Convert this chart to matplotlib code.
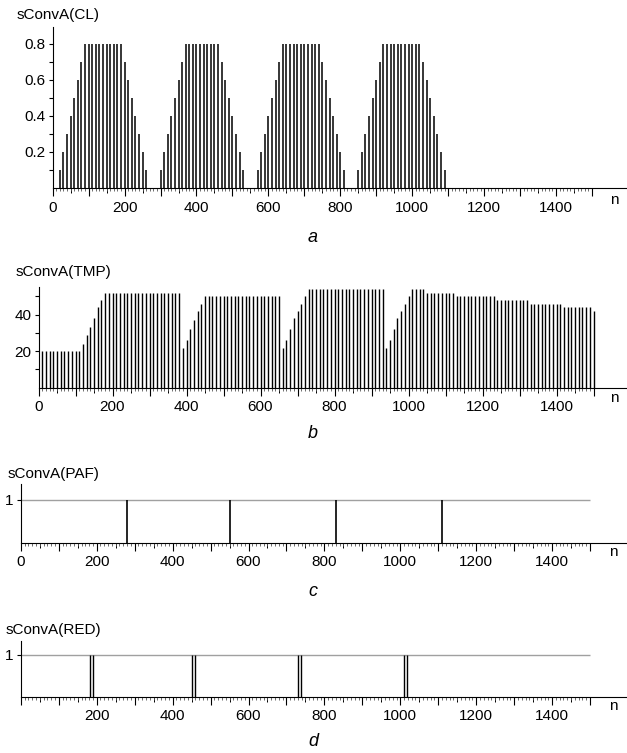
import matplotlib
matplotlib.use("Agg")
import matplotlib.pyplot as plt
import numpy as np

plt.rcParams['font.family'] = ['Liberation Sans', 'DejaVu Sans']
plt.rcParams['font.size'] = 11

W, H = 627, 753

# sConvA(CL): stems every 10 samples, n = 10 .. 1090 (zero afterwards)
cl_n = list(range(10, 1100, 10))
cl_val = [0,
          0.1, 0.2, 0.3, 0.4, 0.5, 0.6, 0.7, 0.8, 0.8, 0.8, 0.8, 0.8, 0.8, 0.8, 0.8, 0.8, 0.8, 0.8,
          0.7, 0.6, 0.5, 0.4, 0.3, 0.2, 0.1, 0, 0, 0,
          0.1, 0.2, 0.3, 0.4, 0.5, 0.6, 0.7, 0.8, 0.8, 0.8, 0.8, 0.8, 0.8, 0.8, 0.8, 0.8, 0.8,
          0.7, 0.6, 0.5, 0.4, 0.3, 0.2, 0.1, 0, 0, 0,
          0.1, 0.2, 0.3, 0.4, 0.5, 0.6, 0.7, 0.8, 0.8, 0.8, 0.8, 0.8, 0.8, 0.8, 0.8, 0.8, 0.8, 0.8,
          0.7, 0.6, 0.5, 0.4, 0.3, 0.2, 0.1, 0, 0, 0,
          0.1, 0.2, 0.3, 0.4, 0.5, 0.6, 0.7, 0.8, 0.8, 0.8, 0.8, 0.8, 0.8, 0.8, 0.8, 0.8, 0.8, 0.8,
          0.7, 0.6, 0.5, 0.4, 0.3, 0.2, 0.1]

# sConvA(TMP): stems every 10 samples, n = 10 .. 1500
tmp_n = list(range(10, 1510, 10))
tmp_val = [20, 20, 20, 20, 20, 20, 20, 20, 20, 20, 20,
           24, 29, 33, 38, 44, 48,
           52, 52, 52, 52, 52, 52, 52, 52, 52, 52, 52, 52, 52, 52, 52, 52, 52, 52, 52, 52, 52,
           22, 26, 32, 37, 42, 46,
           50, 50, 50, 50, 50, 50, 50, 50, 50, 50, 50, 50, 50, 50, 50, 50, 50, 50, 50, 50, 50,
           22, 26, 32, 38, 42, 46, 50,
           54, 54, 54, 54, 54, 54, 54, 54, 54, 54, 54, 54, 54, 54, 54, 54, 54, 54, 54, 54, 54,
           22, 26, 32, 38, 42, 46, 50,
           54, 54, 54, 54,
           52, 52, 52, 52, 52, 52, 52, 52,
           50, 50, 50, 50, 50, 50, 50, 50, 50, 50, 50,
           48, 48, 48, 48, 48, 48, 48, 48, 48,
           46, 46, 46, 46, 46, 46, 46, 46, 46,
           44, 44, 44, 44, 44, 44, 44, 44,
           42]

# sConvA(PAF) and sConvA(RED): unit pulses
paf_n = [280, 550, 830, 1110]
red_n = [182, 190, 452, 460, 730, 738, 1010, 1018]

x_major = list(range(0, 1501, 100))
x_mid = list(range(50, 1500, 100))
x_labels = ['0', '', '200', '', '400', '', '600', '', '800', '', '1000', '', '1200', '', '1400', '']


def px_axes(fig, x0, y_top, y_base):
    # axes from pixel box: left at n = 0, right edge of figure
    return fig.add_axes([x0 / W, 1 - y_base / H, (W - x0) / W, (y_base - y_top) / H])


def style_axis(ax, x0, scale, ytop, xlabels):
    ax.set_xlim(0, (W - x0) / scale)
    ax.set_ylim(0, ytop)
    ax.spines['top'].set_visible(False)
    ax.spines['right'].set_visible(False)
    ax.spines['left'].set_bounds(0, ytop)
    ax.set_xticks(x_major)
    ax.set_xticklabels(xlabels)
    ax.set_xticks(list(range(0, 1501, 10)), minor=True)
    ax.tick_params(axis='x', which='major', length=6, width=0.8, pad=3, labelsize=11)
    ax.tick_params(axis='x', which='minor', length=2, width=0.6, color='#555555')
    ax.tick_params(axis='y', which='both', length=3, width=0.8, labelsize=11, pad=2)
    # medium ticks at the 50s
    sec = ax.secondary_xaxis('bottom')
    sec.set_xticks(x_mid)
    sec.set_xticklabels([])
    sec.tick_params(length=3.5, width=0.7)
    sec.spines['bottom'].set_visible(False)
    ax.patch.set_alpha(0)
    ax.text(0.985, -0.03, 'n', transform=ax.transAxes, ha='right', va='top', fontsize=11)


fig = plt.figure(figsize=(W / 100, H / 100), dpi=100)

# Panel a
ax = px_axes(fig, 52.7, 27, 188)
ax.vlines(cl_n, 0, cl_val, color='black', linewidth=1.1)
style_axis(ax, 52.7, 0.3595, 0.894, x_labels)
ax.set_yticks([0.2, 0.4, 0.6, 0.8])
ax.set_yticklabels(['0.2', '0.4', '0.6', '0.8'])
ax.set_yticks([0.1, 0.3, 0.5, 0.7], minor=True)
fig.text(17 / W, 1 - 15 / H, 'sConvA(CL)', ha='left', va='center', fontsize=11)
fig.text(313 / W, 1 - 237 / H, 'a', ha='center', va='center', fontsize=13, style='italic')

# Panel b
ax = px_axes(fig, 38.5, 286.7, 387.7)
ax.vlines(tmp_n, 0, tmp_val, color='black', linewidth=1.0)
style_axis(ax, 38.5, 0.37, 55.3, x_labels)
ax.set_yticks([20, 40])
ax.set_yticks([10, 30, 50], minor=True)
fig.text(16 / W, 1 - 272 / H, 'sConvA(TMP)', ha='left', va='center', fontsize=11)
fig.text(313 / W, 1 - 433 / H, 'b', ha='center', va='center', fontsize=13, style='italic')

# Panel c
ax = px_axes(fig, 20.8, 484, 543)
ax.hlines(1, 0, 1500, color='#a0a0a0', linewidth=1.0)
ax.vlines(paf_n, 0, [1] * len(paf_n), color='black', linewidth=1.2)
style_axis(ax, 20.8, 0.3795, 1.37, x_labels)
ax.set_yticks([1])
fig.text(8 / W, 1 - 474 / H, 'sConvA(PAF)', ha='left', va='center', fontsize=11)
fig.text(313 / W, 1 - 592 / H, 'c', ha='center', va='center', fontsize=13, style='italic')

# Panel d
ax = px_axes(fig, 20.8, 641, 697)
ax.hlines(1, 0, 1500, color='#a0a0a0', linewidth=1.0)
ax.vlines(red_n, 0, [1] * len(red_n), color='black', linewidth=1.0)
style_axis(ax, 20.8, 0.3795, 1.33, [''] + x_labels[1:])
ax.set_yticks([1])
fig.text(6 / W, 1 - 630 / H, 'sConvA(RED)', ha='left', va='center', fontsize=11)
fig.text(313 / W, 1 - 741 / H, 'd', ha='center', va='center', fontsize=13, style='italic')

fig.savefig('out.png', dpi=100)
